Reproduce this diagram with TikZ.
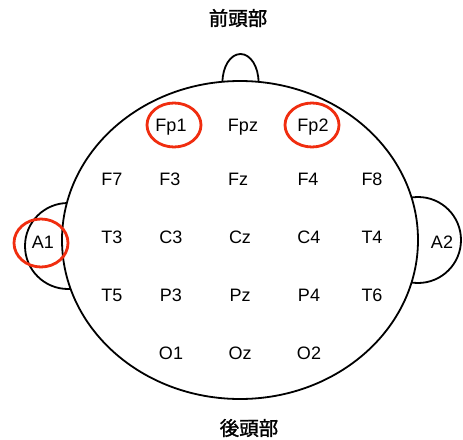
\documentclass[tikz,border=0pt]{standalone}
\usepackage{fontspec}
\setmainfont{Liberation Sans}
\newfontfamily\jpfont[FakeBold=1.5]{Noto Sans CJK JP}
\usetikzlibrary{shapes.geometric}
\begin{document}
\begin{tikzpicture}[x=1pt,y=-1pt,
  outline/.style={draw=black,line width=1.8pt,fill=white},
  redring/.style={draw={rgb,255:red,240;green,45;blue,15},line width=2.8pt},
  lbl/.style={inner sep=0pt,font=\fontsize{18}{19}\selectfont},
  jp/.style={inner sep=0pt,font=\jpfont\fontsize{19.5}{20}\selectfont}]
\useasboundingbox (0,0) rectangle (463,439);
% ears and nose (behind the head)
\draw[outline] (68,246) circle [radius=43];
\draw[outline] (418,240) circle [radius=43];
\draw[outline] (240.5,82) ellipse [x radius=18, y radius=28];
% head
\draw[outline] (240,240) ellipse [x radius=178, y radius=159];
% titles
\node[jp] (front) at (238,18) {前頭部};
\node[jp] (back) at (249,428) {後頭部};
% electrodes
\node[lbl] (Fp1) at (171,127) {Fp1};
\node[lbl] (Fpz) at (243,127) {Fpz};
\node[lbl] (Fp2) at (313,127) {Fp2};
\node[lbl] (F7) at (112,179) {F7};
\node[lbl] (F3) at (170,179) {F3};
\node[lbl] (Fz) at (238,179) {Fz};
\node[lbl] (F4) at (308,179) {F4};
\node[lbl] (F8) at (372,179) {F8};
\node[lbl] (A1) at (43,242) {A1};
\node[lbl] (T3) at (112,237) {T3};
\node[lbl] (C3) at (171,237) {C3};
\node[lbl] (Cz) at (240,237) {Cz};
\node[lbl] (C4) at (309,237) {C4};
\node[lbl] (T4) at (372,237) {T4};
\node[lbl] (A2) at (442,242) {A2};
\node[lbl] (T5) at (112,295) {T5};
\node[lbl] (P3) at (171,295) {P3};
\node[lbl] (Pz) at (240,295) {Pz};
\node[lbl] (P4) at (309,295) {P4};
\node[lbl] (T6) at (372,295) {T6};
\node[lbl] (O1) at (171,353) {O1};
\node[lbl] (Oz) at (240,353) {Oz};
\node[lbl] (O2) at (309,353) {O2};
% red rings
\draw[redring] (174,125) ellipse [x radius=27, y radius=22];
\draw[redring] (312,125) ellipse [x radius=27, y radius=22];
\draw[redring] (41,243) ellipse [x radius=27, y radius=24];
\end{tikzpicture}
\end{document}
